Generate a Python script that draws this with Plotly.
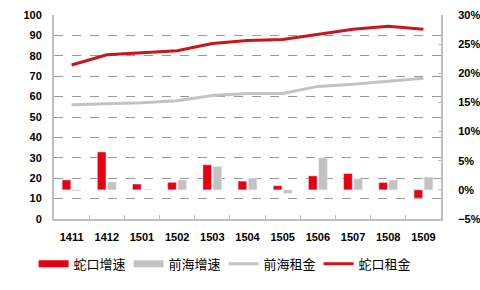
import plotly.graph_objects as go

months = ["1411", "1412", "1501", "1502", "1503", "1504", "1505", "1506", "1507", "1508", "1509"]
shekou_growth = [1.7, 6.5, 1.0, 1.3, 4.3, 1.5, 0.7, 2.4, 2.8, 1.25, -1.4]
qianhai_growth = [-0.2, 1.35, 0.1, 1.7, 4.0, 2.0, -0.6, 5.5, 1.9, 1.7, 2.2]
qianhai_rent = [56, 56.5, 57, 58, 60.5, 61.5, 61.5, 65, 66, 67.5, 69]
shekou_rent = [75.5, 80.5, 81.5, 82.5, 86, 87.5, 88, 90.5, 93, 94.5, 93]

RED_BAR = "#E60012"
GRAY_BAR = "#C3C3C3"
RED_LINE = "#C8161D"
GRAY_LINE = "#C3C3C3"
AXIS = "#BFBFBF"
GRID = "#999999"

fig = go.Figure()
fig.add_trace(go.Scatter(x=months, y=qianhai_rent, mode="lines", line=dict(color=GRAY_LINE, width=3),
                         name="前海租金", showlegend=False))
fig.add_trace(go.Scatter(x=months, y=shekou_rent, mode="lines", line=dict(color=RED_LINE, width=3),
                         name="蛇口租金", showlegend=False))
fig.add_trace(go.Bar(x=months, y=shekou_growth, marker_color=RED_BAR, name="蛇口增速", yaxis="y2",
                     showlegend=False))
fig.add_trace(go.Bar(x=months, y=qianhai_growth, marker_color=GRAY_BAR, name="前海增速", yaxis="y2",
                     showlegend=False))

# legend entries
fig.add_trace(go.Scatter(x=[None], y=[None], mode="lines", line=dict(color=RED_BAR, width=7), name="蛇口增速"))
fig.add_trace(go.Scatter(x=[None], y=[None], mode="lines", line=dict(color=GRAY_BAR, width=7), name="前海增速"))
fig.add_trace(go.Scatter(x=[None], y=[None], mode="lines", line=dict(color=GRAY_LINE, width=3), name="前海租金"))
fig.add_trace(go.Scatter(x=[None], y=[None], mode="lines", line=dict(color=RED_LINE, width=3), name="蛇口租金"))

tickfont = dict(family="Liberation Sans", size=11, color="#000000", weight="bold")

fig.update_layout(
    width=480, height=290,
    margin=dict(l=54, r=39, t=15, b=71, autoexpand=False),
    paper_bgcolor="white", plot_bgcolor="white",
    barmode="group", bargap=0.42, bargroupgap=0.15,
    xaxis=dict(type="category", showline=True, linecolor=AXIS, linewidth=2,
               ticks="inside", tickson="boundaries", ticklen=4, tickcolor=AXIS,
               tickfont=tickfont, ticklabelstandoff=7, showgrid=False),
    yaxis=dict(range=[0, 100], dtick=10, showline=True, linecolor=AXIS, linewidth=2,
               showgrid=True, gridcolor=GRID, griddash="dash", gridwidth=1,
               zeroline=False, tickfont=tickfont, ticklabelstandoff=8),
    yaxis2=dict(range=[-5, 30], dtick=5, overlaying="y", side="right", ticksuffix="%",
                showline=True, linecolor=AXIS, linewidth=2, showgrid=False, zeroline=False,
                ticks="inside", ticklen=3, tickcolor=AXIS, tickfont=tickfont, ticklabelstandoff=13),
    legend=dict(orientation="h", xref="container", x=0.07, xanchor="left",
                yref="container", y=0.09, yanchor="middle",
                entrywidth=50, entrywidthmode="pixels", itemwidth=30,
                font=dict(family="Noto Sans CJK SC", size=13, color="#000000"),
                traceorder="normal"),
)

fig.write_html("out.html")
